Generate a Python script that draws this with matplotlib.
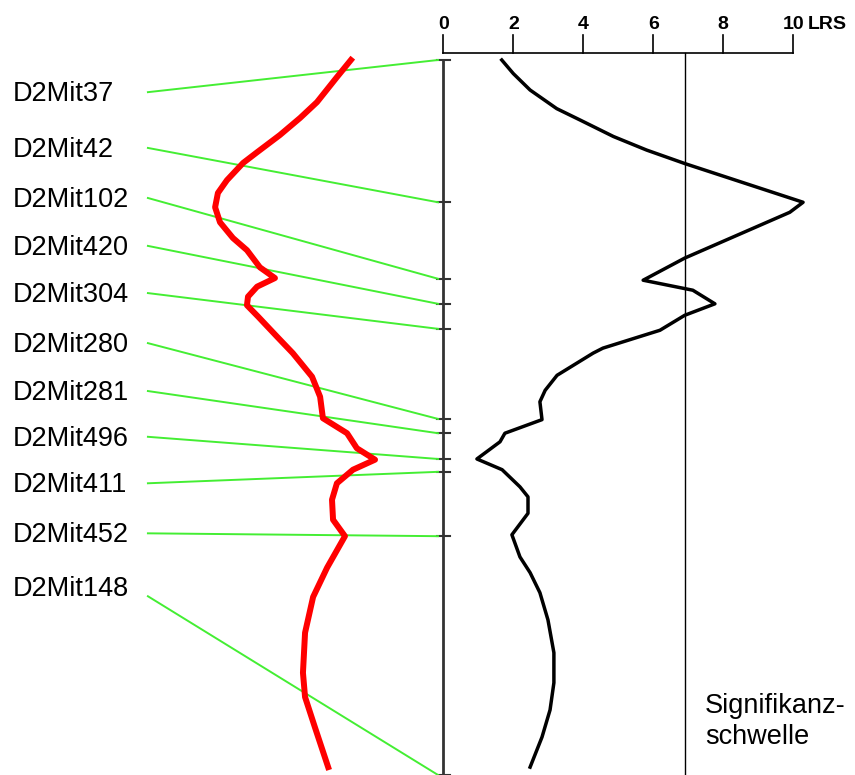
import numpy as np
from matplotlib import pyplot as plt

plt.rcParams['font.family'] = ['Liberation Sans', 'DejaVu Sans']

# marker map (position in cM along the chromosome)
markers = ["D2Mit37", "D2Mit42", "D2Mit102", "D2Mit420", "D2Mit304", "D2Mit280",
           "D2Mit281", "D2Mit496", "D2Mit411", "D2Mit452", "D2Mit148"]
marker_pos = [0.0, 19.9, 30.6, 34.1, 37.6, 50.2, 52.2, 55.8, 57.6, 66.6, 100.0]
label_rows = [4.5, 12.3, 19.3, 26.0, 32.6, 39.6, 46.3, 52.7, 59.2, 66.2, 75.0]

# LRS profile
lrs_pos = [0, 1.9, 4.2, 6.8, 8.4, 10.7, 12.6, 14.5, 19.9, 21.3, 27.7, 30.8, 32.2, 34.1,
           35.7, 37.8, 40.3, 41.0, 44.1, 46.2, 47.8, 50.3, 52.2, 53.4, 55.8, 57.3, 59.7,
           61.1, 63.4, 66.4, 69.5, 71.7, 74.5, 78.3, 82.9, 87.1, 90.9, 94.7, 98.9]
lrs = [1.67, 2.00, 2.48, 3.24, 3.91, 4.86, 5.81, 6.91, 10.28, 9.90, 6.90, 5.71, 7.13, 7.76,
       6.90, 6.19, 4.56, 4.28, 3.25, 2.91, 2.76, 2.82, 1.76, 1.62, 0.96, 1.68, 2.19,
       2.42, 2.42, 1.96, 2.19, 2.48, 2.76, 2.99, 3.16, 3.16, 3.05, 2.82, 2.48]

# second profile (red), drawn mirrored on the left side
red_pos = [0, 2.4, 5.9, 8.1, 10.5, 12.9, 14.4, 16.8, 18.6, 20.6, 22.7, 24.9, 26.6,
           29.0, 30.5, 31.7, 33.1, 34.3, 35.9, 38.7, 41.0, 44.3, 47.1, 50.1, 52.2,
           54.3, 55.9, 57.3, 59.2, 61.5, 64.3, 66.6, 71.0, 75.1, 80.1, 85.7, 89.1,
           93.3, 98.9]
red_val = [2.64, 3.04, 3.61, 4.09, 4.67, 5.32, 5.72, 6.18, 6.44, 6.52, 6.38, 6.01, 5.61,
           5.24, 4.81, 5.32, 5.58, 5.61, 5.29, 4.75, 4.30, 3.75, 3.52, 3.44, 2.75,
           2.47, 1.95, 2.58, 3.04, 3.18, 3.15, 2.81, 3.32, 3.72, 3.95, 4.01, 3.95,
           3.67, 3.29]

lrs_ticks = [0, 2, 4, 6, 8, 10]
threshold = 6.9

fig = plt.figure(figsize=(8.55, 7.75), dpi=100)
ax = fig.add_axes([0, 0, 1, 1])
ax.set_xlim(-12.666, 11.763)
ax.set_ylim(100, -8.39)
ax.axis("off")

# top LRS axis
axis_y = -0.94
ax.plot([0, 10], [axis_y, axis_y], color="black", lw=1.2)
for t in lrs_ticks:
    ax.plot([t, t], [axis_y, -3.5], color="black", lw=1.2)
    ax.text(t, -5.0, str(t), ha="center", va="center", fontsize=14, fontweight="bold")
ax.text(10.42, -5.0, "LRS", ha="left", va="center", fontsize=14, fontweight="bold")

# threshold
ax.plot([threshold, threshold], [axis_y, 100], color="black", lw=1.0)
ax.text(7.48, 92.5, "Signifikanz-\nschwelle", ha="left", va="center", fontsize=19.5,
        linespacing=1.25)

# chromosome axis with marker ticks
ax.plot([0, 0], [0, 100], color="#333333", lw=2.0)
for p in marker_pos:
    ax.plot([-0.19, 0.19], [p, p], color="#333333", lw=1.5)

# green connectors and labels
for name, row, p in zip(markers, label_rows, marker_pos):
    ax.plot([-8.44, -0.15], [row, p], color="#44ee33", lw=1.4)
    ty = row if name != "D2Mit148" else 73.7
    ax.text(-12.29, ty + 0.28, name, ha="left", va="center", fontsize=19.5)

# curves
ax.plot(-np.array(red_val), red_pos, color="#ff0000", lw=4.3, solid_joinstyle="round")
ax.plot(lrs, lrs_pos, color="black", lw=2.5, solid_joinstyle="round")

fig.savefig("out.png", dpi=100)
